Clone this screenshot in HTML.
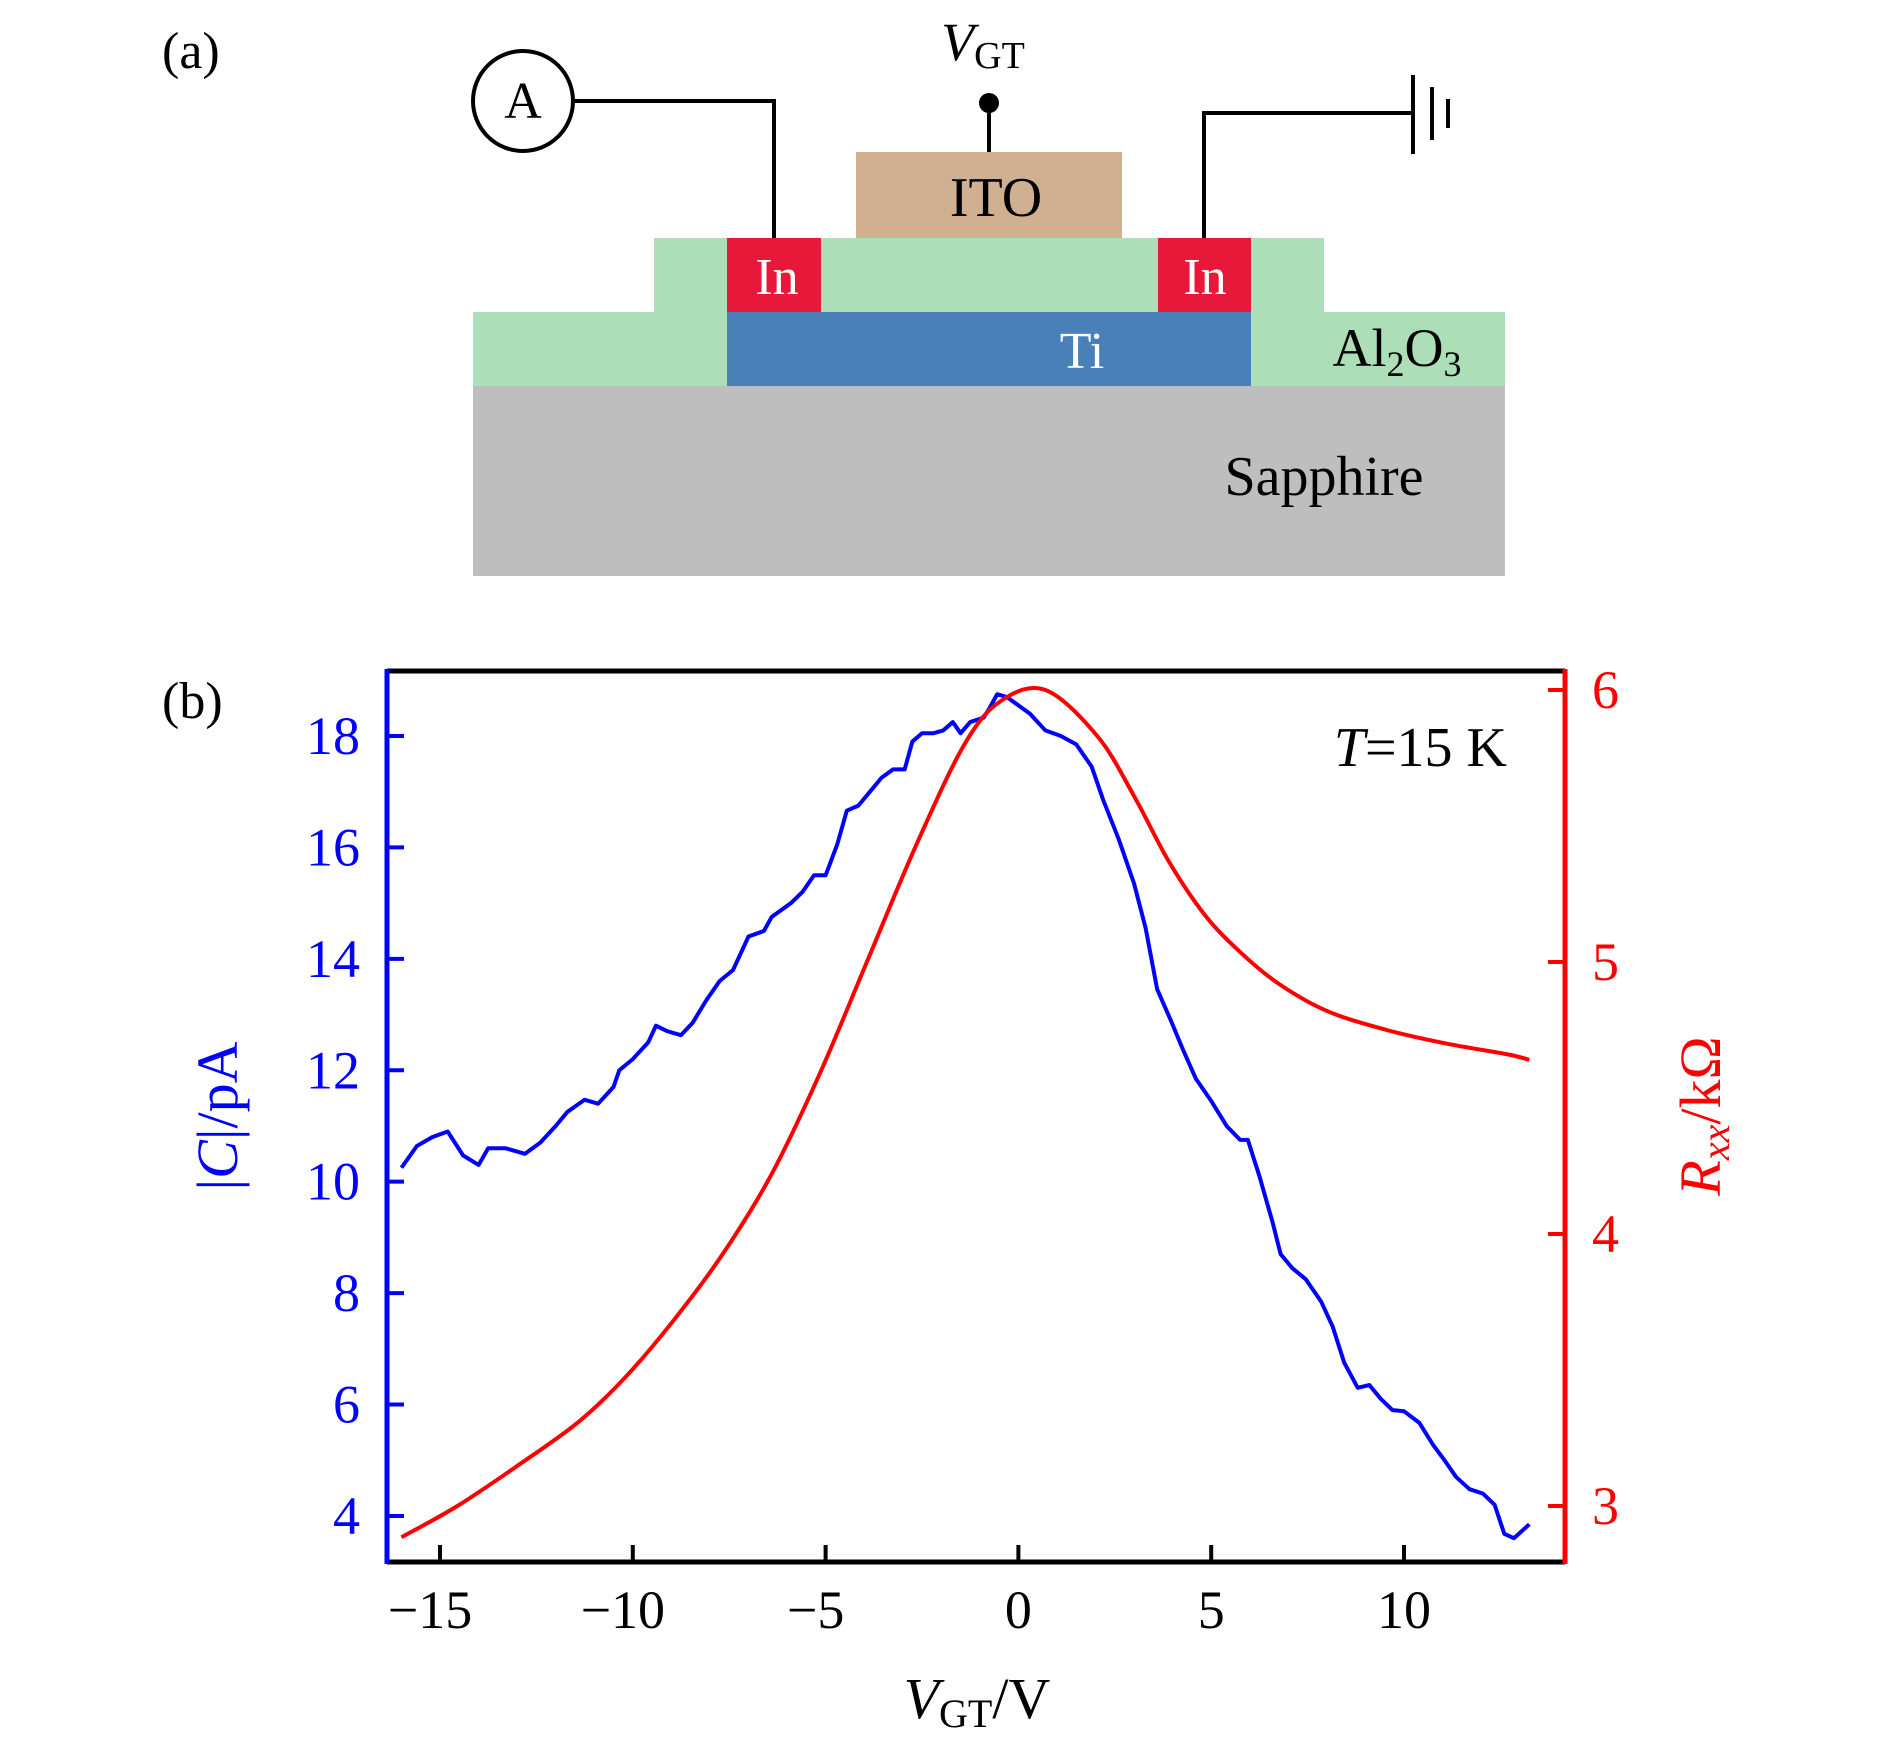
<!DOCTYPE html>
<html><head><meta charset="utf-8"><style>
body{margin:0;background:#fff}
svg{display:block;font-family:"Liberation Serif",serif}
</style></head><body>
<svg width="1890" height="1749" viewBox="0 0 1890 1749">
<g>
<text x="162" y="68" font-size="52">(a)</text>
<rect x="473" y="386" width="1032" height="190" fill="#bebebe"/>
<rect x="473" y="312" width="1032" height="74" fill="#acdfb8"/>
<rect x="654" y="238" width="670" height="74" fill="#acdfb8"/>
<rect x="727" y="312" width="524" height="74" fill="#4a80b8"/>
<rect x="727" y="238" width="94" height="74" fill="#e8183a"/>
<rect x="1158" y="238" width="93" height="74" fill="#e8183a"/>
<rect x="856" y="152" width="266" height="86" fill="#d0b090"/>
<text x="996" y="216" font-size="56" text-anchor="middle">ITO</text>
<text x="777" y="294" font-size="52" fill="#fff" text-anchor="middle">In</text>
<text x="1205" y="294" font-size="52" fill="#fff" text-anchor="middle">In</text>
<text x="1082" y="368" font-size="52" fill="#fff" text-anchor="middle">Ti</text>
<text x="1397" y="366" font-size="54" text-anchor="middle">Al<tspan font-size="36" dy="10">2</tspan><tspan dy="-10">O</tspan><tspan font-size="36" dy="10">3</tspan></text>
<text x="1324" y="495" font-size="56" text-anchor="middle">Sapphire</text>
<g fill="none" stroke="#000" stroke-width="4">
<circle cx="523" cy="101" r="50"/>
<polyline points="574,101 774,101 774,238"/>
<polyline points="1204,238 1204,113 1413,113"/>
<line x1="1413" y1="75" x2="1413" y2="154"/>
<line x1="1432" y1="87" x2="1432" y2="140"/>
<line x1="1448" y1="99" x2="1448" y2="128"/>
<line x1="989" y1="103" x2="989" y2="152"/>
</g>
<circle cx="989" cy="103" r="10" fill="#000"/>
<text x="523" y="118" font-size="52" text-anchor="middle">A</text>
<text x="983" y="60" font-size="54" text-anchor="middle"><tspan font-style="italic">V</tspan><tspan font-size="38" dy="8">GT</tspan></text>
</g>
<g id="chart"></g>
</svg>
<script>
const cV=[-16.0,-15.6,-15.2,-14.8,-14.4,-14.0,-13.75,-13.3,-12.8,-12.4,-12.0,-11.7,-11.25,-10.9,-10.5,-10.35,-10.0,-9.6,-9.4,-9.1,-8.75,-8.45,-8.1,-7.75,-7.4,-7.0,-6.6,-6.4,-5.9,-5.6,-5.3,-5.0,-4.7,-4.45,-4.15,-3.85,-3.55,-3.25,-2.95,-2.75,-2.5,-2.2,-1.95,-1.7,-1.5,-1.25,-0.9,-0.75,-0.55,-0.3,0.0,0.3,0.7,1.1,1.5,1.9,2.2,2.6,3.0,3.3,3.6,3.95,4.25,4.6,5.0,5.4,5.75,5.95,6.25,6.6,6.8,7.1,7.45,7.85,8.15,8.45,8.8,9.1,9.4,9.7,10.0,10.4,10.75,11.05,11.35,11.7,12.05,12.35,12.6,12.85,13.25];
const cVal=[10.25,10.64,10.8,10.9,10.47,10.3,10.6,10.6,10.5,10.7,11.0,11.25,11.47,11.4,11.7,12.0,12.2,12.5,12.8,12.7,12.63,12.85,13.25,13.6,13.8,14.4,14.5,14.75,15.0,15.2,15.5,15.5,16.05,16.66,16.75,17.0,17.25,17.4,17.4,17.9,18.05,18.05,18.1,18.25,18.05,18.25,18.33,18.5,18.75,18.7,18.55,18.4,18.1,18.0,17.85,17.45,16.85,16.15,15.35,14.55,13.45,12.9,12.4,11.85,11.45,11.0,10.75,10.75,10.1,9.25,8.7,8.45,8.25,7.85,7.4,6.75,6.3,6.35,6.1,5.9,5.88,5.67,5.28,5.0,4.7,4.48,4.4,4.2,3.68,3.6,3.85];
const rV=[-16.0,-14.55,-12.97,-11.4,-10.15,-8.9,-7.65,-6.4,-5.15,-3.9,-2.65,-1.4,-0.45,0.7,2.05,3.0,3.9,4.85,5.8,6.75,8.0,9.55,11.1,12.7,13.25];
const rVal=[2.885,3.0,3.15,3.31,3.48,3.69,3.93,4.22,4.59,5.01,5.43,5.80,5.96,6.0,5.83,5.61,5.37,5.17,5.03,4.92,4.82,4.75,4.70,4.66,4.64];
const xTicks=[-15,-10,-5,0,5,10];
const xTickLabels=["\u221215","\u221210","\u22125","0","5","10"];
const yLTicks=[4,6,8,10,12,14,16,18];
const yRTicks=[3,4,5,6];

const L=387,R=1565,T=671,B=1562;
const x=v=>440+(v+15)*38.56;
const yL=c=>736+(18-c)*55.71;
const yR=r=>690+(6-r)*272;
const NS='http://www.w3.org/2000/svg';
const g=document.getElementById('chart');
function mk(tag,attrs,parent){const e=document.createElementNS(NS,tag);for(const k in attrs)e.setAttribute(k,attrs[k]);(parent||g).appendChild(e);return e;}

const t1=mk('text',{x:162,y:718,'font-size':52});
t1.textContent='(b)';



const blue=mk('polyline',{points:cV.map((v,i)=>x(v)+','+yL(cVal[i])).join(' '),fill:'none',stroke:'#0000ff','stroke-width':4,'stroke-linejoin':'round'});


const pts=rV.map((v,i)=>[x(v),yR(rVal[i])]);
let d='M'+pts[0][0]+','+pts[0][1];
for(let i=0;i<pts.length-1;i++){const p0=pts[i-1]||pts[i],p1=pts[i],p2=pts[i+1],p3=pts[i+2]||p2;
d+=' C'+(p1[0]+(p2[0]-p0[0])/6)+','+(p1[1]+(p2[1]-p0[1])/6)+' '+(p2[0]-(p3[0]-p1[0])/6)+','+(p2[1]-(p3[1]-p1[1])/6)+' '+p2[0]+','+p2[1];}
const red=mk('path',{d:d,fill:'none',stroke:'#ff0000','stroke-width':4});



const topFrame=mk('line',{x1:L,y1:T,x2:R,y2:T,stroke:'#000','stroke-width':5});


const bot=mk('line',{x1:L,y1:B,x2:R,y2:B,stroke:'#000','stroke-width':5});


const la=mk('line',{x1:L,y1:T-2,x2:L,y2:B+2,stroke:'#0000ff','stroke-width':5});


const ra=mk('line',{x1:R,y1:T-2,x2:R,y2:B+2,stroke:'#ff0000','stroke-width':5});



xTicks.forEach((v,i)=>{
 const tk=mk('line',{x1:x(v),y1:B,x2:x(v),y2:B-17,stroke:'#000','stroke-width':4});
 
 
 const tl=mk('text',{x:x(v)+(v<0?-10:0),y:B+66,'font-size':54,'text-anchor':'middle'});
 tl.textContent=xTickLabels[i];
 
 
});
yLTicks.forEach(v=>{
 const tk=mk('line',{x1:L,y1:yL(v),x2:L+17,y2:yL(v),stroke:'#0000ff','stroke-width':4});
 
 
 const tl=mk('text',{x:360,y:yL(v)+18,'font-size':54,'text-anchor':'end',fill:'#0000ff'});
 tl.textContent=String(v);
 
 
});
yRTicks.forEach(v=>{
 const tk=mk('line',{x1:R,y1:yR(v),x2:R-17,y2:yR(v),stroke:'#ff0000','stroke-width':4});
 
 
 const tl=mk('text',{x:1592,y:yR(v)+18,'font-size':54,fill:'#ff0000'});
 tl.textContent=String(v);
 
 
});

const xl=mk('text',{x:977,y:1718,'font-size':58,'text-anchor':'middle'});
xl.innerHTML='<tspan font-style="italic">V</tspan><tspan font-size="40" dy="9">GT</tspan><tspan dy="-9">/V</tspan>';


const yl=mk('text',{x:0,y:0,'font-size':58,'text-anchor':'middle',fill:'#0000ff',transform:'translate(237,1116) rotate(-90)'});
yl.innerHTML='|<tspan font-style="italic">C</tspan>|/pA';


const yr=mk('text',{x:0,y:0,'font-size':58,'text-anchor':'middle',fill:'#ff0000',transform:'translate(1720,1116) rotate(-90)'});
yr.innerHTML='<tspan font-style="italic">R</tspan><tspan font-size="40" font-style="italic" dy="9">xx</tspan><tspan dy="-9">/k\u03A9</tspan>';


const ann=mk('text',{x:1507,y:766,'font-size':56,'text-anchor':'end'});
ann.innerHTML='<tspan font-style="italic">T</tspan>=15 K';


</script>
</body></html>
